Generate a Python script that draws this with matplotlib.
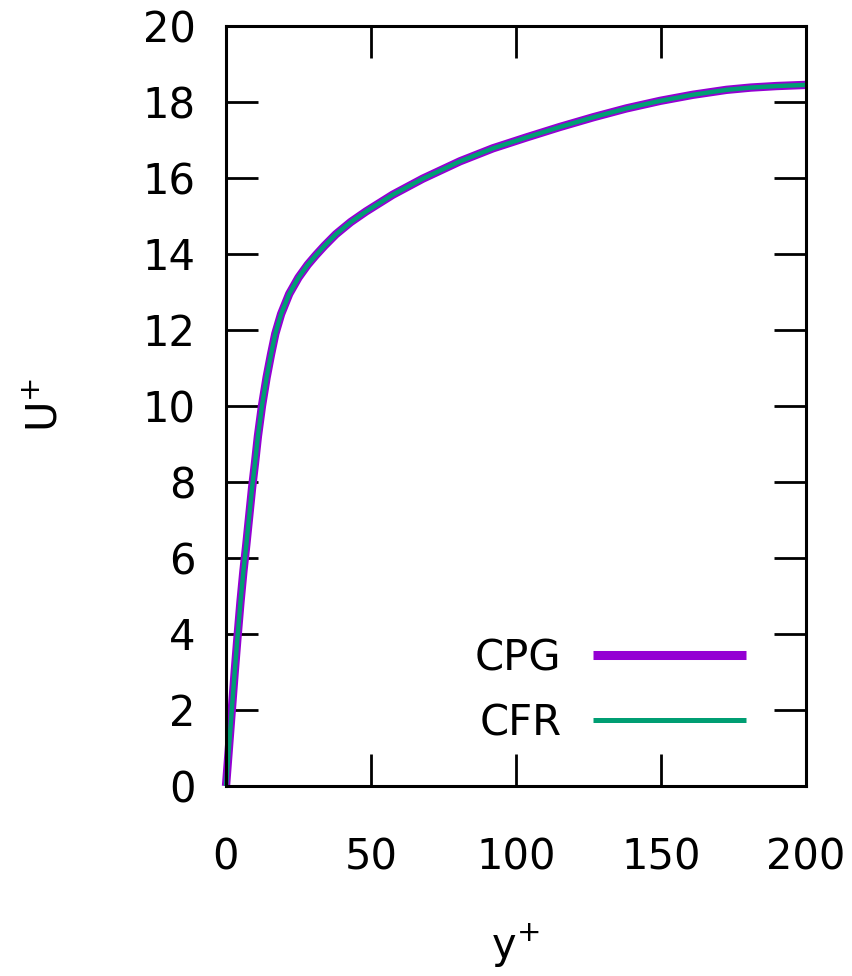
import numpy as np
import matplotlib
matplotlib.use('Agg')
import matplotlib.pyplot as plt

# velocity profile (both runs coincide)
yplus = [0, 1, 2, 3, 4, 5, 6, 7, 8, 9, 10, 11, 12.4, 14, 15.5, 17, 19, 21.8,
         25, 28.2, 31, 34, 37.9, 43, 48.3, 57.5, 67.8, 80.7, 92, 103.7, 115,
         126.7, 138, 149.7, 161, 172.6, 181, 189.9, 200]
u_cpg = [0, 1.0, 2.0, 3.0, 3.95, 4.85, 5.65, 6.35, 7.1, 7.85, 8.5, 9.2, 10.0,
         10.75, 11.35, 11.9, 12.42, 12.95, 13.38, 13.72, 13.97, 14.22, 14.52,
         14.84, 15.12, 15.56, 15.98, 16.44, 16.78, 17.07, 17.34, 17.6, 17.83,
         18.03, 18.19, 18.32, 18.38, 18.42, 18.45]
u_cfr = [0, 1.0, 2.0, 3.0, 3.95, 4.85, 5.65, 6.35, 7.1, 7.85, 8.5, 9.2, 10.0,
         10.75, 11.35, 11.9, 12.42, 12.95, 13.38, 13.72, 13.97, 14.22, 14.52,
         14.84, 15.12, 15.56, 15.98, 16.44, 16.78, 17.07, 17.34, 17.6, 17.83,
         18.03, 18.19, 18.32, 18.38, 18.42, 18.45]
xticks = [0, 50, 100, 150, 200]
yticks = list(range(0, 21, 2))

plt.rcParams['font.family'] = ['DejaVu Sans']
fs = 30

fig = plt.figure(figsize=(8.53, 9.76), dpi=100)
ax = fig.add_axes([226 / 853, 1 - 786 / 976, 580 / 853, 760 / 976])

ax.plot(yplus, u_cpg, color='#9400d3', lw=6.0, label='CPG', clip_on=False,
        solid_capstyle='butt', solid_joinstyle='round')
ax.plot(yplus, u_cfr, color='#009e73', lw=3.2, label='CFR', clip_on=False,
        solid_capstyle='butt', solid_joinstyle='round')

ax.set_xlim(0, 200)
ax.set_ylim(0, 20)
ax.set_xticks(xticks)
ax.set_yticks(yticks)
ax.tick_params(direction='in', length=23, width=2, top=True, right=True,
               labelsize=fs)
ax.tick_params(axis='x', pad=36)
ax.tick_params(axis='y', pad=22)
for s in ax.spines.values():
    s.set_linewidth(2.2)

fig.text(515 / 853, 1 - 945 / 976, 'y$^{+}$', fontsize=fs, ha='center', va='center')
fig.text(45 / 853, 1 - 405 / 976, 'U$^{+}$', fontsize=fs, ha='center', va='center',
         rotation=90)

leg = ax.legend(loc='lower right', bbox_to_anchor=(746 / 853, 1 - 744 / 976),
                bbox_transform=fig.transFigure, frameon=False, fontsize=fs,
                markerfirst=False, handlelength=3.67, handletextpad=0.76,
                borderpad=0, borderaxespad=0, labelspacing=0.55)
leg.get_lines()[0].set_linewidth(6.5)
leg.get_lines()[1].set_linewidth(3.6)

fig.savefig('out.png', dpi=100)
